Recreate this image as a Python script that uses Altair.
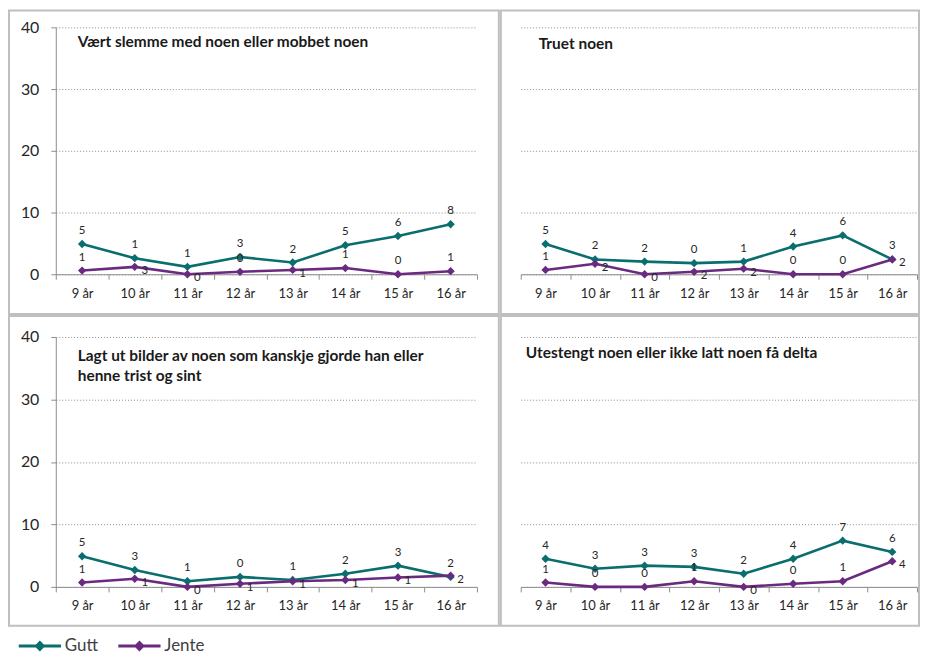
import altair as alt
import pandas as pd

ages = ["9 år", "10 år", "11 år", "12 år", "13 år", "14 år", "15 år", "16 år"]
titles = [
    "Vært slemme med noen eller mobbet noen",
    "Truet noen",
    "Lagt ut bilder av noen som kanskje gjorde han eller\nhenne trist og sint",
    "Utestengt noen eller ikke latt noen få delta",
]
gutt = [
    [4.9, 2.6, 1.2, 2.8, 1.9, 4.7, 6.2, 8.1],
    [4.9, 2.4, 2.05, 1.8, 2.05, 4.5, 6.3, 2.4],
    [4.9, 2.7, 0.9, 1.6, 1.1, 2.1, 3.4, 1.6],
    [4.5, 2.9, 3.4, 3.2, 2.1, 4.5, 7.4, 5.6],
]
jente = [
    [0.6, 1.2, 0.0, 0.4, 0.7, 1.0, 0.0, 0.5],
    [0.7, 1.7, 0.0, 0.4, 0.9, 0.0, 0.0, 2.4],
    [0.7, 1.3, 0.0, 0.5, 0.9, 1.1, 1.5, 1.8],
    [0.7, 0.0, 0.0, 0.9, 0.0, 0.5, 0.9, 4.1],
]
gutt_labels = [
    ["5", "1", "1", "3", "2", "5", "6", "8"],
    ["5", "2", "2", "0", "1", "4", "6", "3"],
    ["5", "3", "1", "0", "1", "2", "3", "2"],
    ["4", "3", "3", "3", "2", "4", "7", "6"],
]
jente_labels = [
    ["1", "3", "0", "0", "1", "1", "0", "1"],
    ["1", "2", "0", "2", "2", "0", "0", "2"],
    ["1", "1", "0", "1", "1", "1", "1", "2"],
    ["1", "0", "0", "1", "0", "0", "1", "4"],
]
sexes = ["Gutt", "Jente"]
colors = ["#0B6E6E", "#6A2A80"]

rows = []
for p in range(4):
    for i, a in enumerate(ages):
        gap = gutt[p][i] - jente[p][i]
        rows.append({"panel": p, "age": a, "sex": "Gutt", "value": gutt[p][i],
                     "label": gutt_labels[p][i], "below": False})
        rows.append({"panel": p, "age": a, "sex": "Jente", "value": jente[p][i],
                     "label": jente_labels[p][i], "below": bool(gap < 2.2)})
df = pd.DataFrame(rows)

FONT = "Lato"
heights = [305, 305, 311, 311]
widths = [492, 420, 492, 420]
xranges = [[47, 470], [20, 418], [47, 470], [20, 418]]
yranges = [[265, 17], [265, 17], [272, 21], [272, 21]]
title_pos = [(69, 32), (38, 34), (69, 40), (25, 37)]

legend_path = "M-2.3,0H2.3M0,-0.36L0.36,0L0,0.36L-0.36,0Z"


def panel(p):
    left = p in (0, 2)
    w, h = widths[p], heights[p]
    xr, yr = xranges[p], yranges[p]
    base = alt.Chart(df).transform_filter(alt.datum.panel == p)
    x = alt.X(
        "age:N", sort=ages, title=None,
        scale=alt.Scale(range=xr, paddingInner=0, paddingOuter=0),
        axis=alt.Axis(
            offset=-(h - yr[0]), labelAngle=0, tickBand="extent", grid=False,
            domainColor="#8C8C8C", tickColor="#8C8C8C", tickSize=5,
            labelFont=FONT, labelFontSize=13, labelColor="#262626", labelPadding=8,
        ),
    )
    y = alt.Y(
        "value:Q", title=None,
        scale=alt.Scale(domain=[0, 40], range=yr, nice=False, zero=True),
        axis=alt.Axis(
            values=[0, 10, 20, 30, 40], offset=-xr[0], grid=True,
            gridColor="#8C8C8C", gridDash=[1, 2], gridWidth=1,
            labels=left, ticks=left, domain=left,
            domainColor="#8C8C8C", tickColor="#8C8C8C", tickSize=5,
            labelFont=FONT, labelFontSize=16, labelColor="#262626", labelPadding=12,
        ),
    )
    color = alt.Color(
        "sex:N", scale=alt.Scale(domain=sexes, range=colors), title=None,
        legend=alt.Legend(
            orient="bottom", direction="horizontal", symbolType=legend_path,
            symbolSize=340, symbolStrokeWidth=3, labelFont=FONT, labelFontSize=17,
            labelColor="#404040", columnPadding=12, symbolOffset=18, labelOffset=14,
        ),
    )
    line = base.mark_line(strokeWidth=2.6).encode(x=x, y=y, color=color)
    pts = base.mark_point(shape="diamond", filled=True, size=70, opacity=1).encode(
        x=x, y=y, color=alt.Color("sex:N", scale=alt.Scale(domain=sexes, range=colors), legend=None)
    )
    labs_up = base.transform_filter("!datum.below").mark_text(
        dy=-13, font=FONT, fontSize=11.5, color="#262626"
    ).encode(x=x, y=y, text="label:N")
    labs_dn = base.transform_filter("datum.below").mark_text(
        dy=4, dx=10, font=FONT, fontSize=11.5, color="#262626"
    ).encode(x=x, y=y, text="label:N")
    tx, ty = title_pos[p]
    ttl = alt.Chart(pd.DataFrame({"t": [titles[p]]})).mark_text(
        align="left", baseline="middle", font=FONT, fontSize=15.5, fontWeight="bold",
        color="#1a1a1a", lineBreak="\n", lineHeight=20,
    ).encode(x=alt.value(tx), y=alt.value(ty), text="t:N")
    return alt.layer(line, pts, labs_up, labs_dn, ttl).properties(width=w, height=h)


chart = alt.vconcat(
    alt.hconcat(panel(0), panel(1), spacing=0),
    alt.hconcat(panel(2), panel(3), spacing=0),
    spacing=0,
).properties(
    padding={"left": 0, "top": 0, "right": 0, "bottom": 0}
).configure_view(
    stroke="#BFBFBF", strokeWidth=2
).configure_legend(
    padding=2, offset=6
)

chart.save("out.html", embed_options={"renderer": "svg", "actions": False})
